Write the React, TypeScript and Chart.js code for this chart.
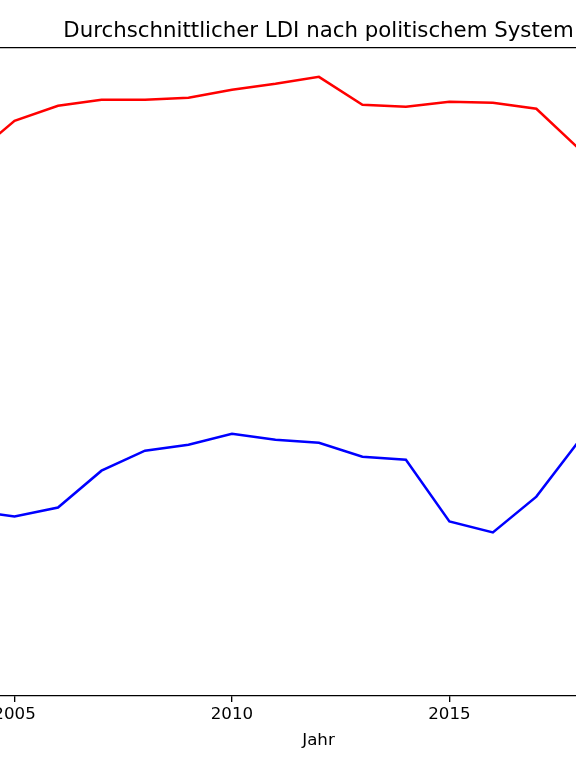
import React, { useEffect, useRef } from 'react';
import { Chart, registerables } from 'chart.js';

Chart.register(...registerables);

const years = [2004, 2005, 2006, 2007, 2008, 2009, 2010, 2011, 2012, 2013, 2014, 2015, 2016, 2017, 2018];
const democracy = [0.690, 0.727, 0.742, 0.748, 0.748, 0.750, 0.758, 0.764, 0.771, 0.743, 0.741, 0.746, 0.745, 0.739, 0.698];
const autocracy = [0.336, 0.330, 0.339, 0.376, 0.396, 0.402, 0.413, 0.407, 0.404, 0.390, 0.387, 0.325, 0.314, 0.350, 0.407];
const xTicks = [2005, 2010, 2015];

const FONT = "'DejaVu Sans', sans-serif";

const App: React.FC = () => {
  const chartRef = useRef<HTMLCanvasElement>(null);
  const chartInstance = useRef<Chart | null>(null);

  useEffect(() => {
    document.body.style.margin = '0';
    if (!chartRef.current) return;
    const ctx = chartRef.current.getContext('2d');
    if (!ctx) return;
    if (chartInstance.current) chartInstance.current.destroy();

    Chart.defaults.font.family = FONT;
    Chart.defaults.color = '#000';

    chartInstance.current = new Chart(ctx, {
      type: 'line',
      data: {
        datasets: [
          {
            label: 'Demokratie',
            data: years.map((y, i) => ({ x: y, y: democracy[i] })),
            borderColor: '#ff0000',
            borderWidth: 2.5,
            pointRadius: 0,
            tension: 0,
            fill: false,
          },
          {
            label: 'Autokratie',
            data: years.map((y, i) => ({ x: y, y: autocracy[i] })),
            borderColor: '#0000ff',
            borderWidth: 2.5,
            pointRadius: 0,
            tension: 0,
            fill: false,
          },
        ],
      },
      options: {
        responsive: false,
        animation: false,
        layout: { padding: 0 },
        plugins: {
          legend: { display: false },
          tooltip: { enabled: false },
          title: {
            display: true,
            text: 'Durchschnittlicher LDI nach politischem System',
            color: '#000',
            font: { family: FONT, size: 21.3, weight: 'normal' },
            padding: { top: 19, bottom: 3.4 },
          },
        },
        scales: {
          x: {
            type: 'linear',
            position: 'bottom',
            min: 2003.93,
            max: 2020.05,
            afterBuildTicks: (axis) => {
              axis.ticks = xTicks.map((v) => ({ value: v }));
            },
            grid: {
              display: true,
              drawOnChartArea: false,
              drawTicks: true,
              tickLength: 6,
              color: '#000',
              lineWidth: 1.33,
            },
            border: { display: true, color: '#000', width: 1.33 },
            ticks: {
              padding: 3,
              color: '#000',
              font: { family: FONT, size: 16.67 },
              maxRotation: 0,
              callback: (v) => String(v),
            },
            title: {
              display: true,
              text: 'Jahr',
              color: '#000',
              font: { family: FONT, size: 16.67 },
              padding: { top: 3, bottom: 17 },
            },
          },
          x2: {
            type: 'linear',
            axis: 'x',
            position: 'top',
            grid: { display: false, drawTicks: false },
            border: { display: true, color: '#000', width: 1.33 },
            ticks: { display: false },
          },
          y: {
            display: false,
            min: 0.15,
            max: 0.8,
          },
        },
      },
    });

    return () => {
      if (chartInstance.current) {
        chartInstance.current.destroy();
        chartInstance.current = null;
      }
    };
  }, []);

  return (
    <div style={{ position: 'fixed', left: 0, top: 0, width: 576, height: 768, overflow: 'hidden', background: '#fff' }}>
      <canvas
        ref={chartRef}
        width={701}
        height={768}
        style={{ position: 'absolute', left: -32, top: 0, width: 701, height: 768 }}
      />
    </div>
  );
};

export default App;
